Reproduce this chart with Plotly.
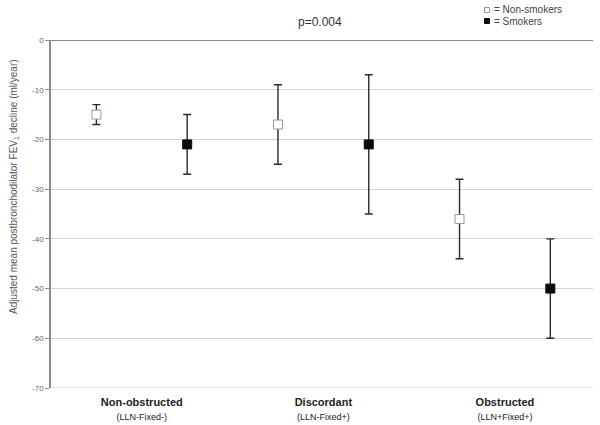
import plotly.graph_objects as go

groups = ["Non-obstructed", "Discordant", "Obstructed"]
group_sub = ["(LLN-Fixed-)", "(LLN-Fixed+)", "(LLN+Fixed+)"]

nonsmk_mean = [-15, -17, -36]
nonsmk_upper = [-13, -9, -28]
nonsmk_lower = [-17, -25, -44]

smk_mean = [-21, -21, -50]
smk_upper = [-15, -7, -40]
smk_lower = [-27, -35, -60]

ytick_vals = [0, -10, -20, -30, -40, -50, -60, -70]
ytick_text = ["0", "-10", "-20", "-30", "-40", "-50", "-60", "-70"]

FONT = "Liberation Sans, Arial, sans-serif"

x_ns = [2 * i for i in range(len(groups))]
x_s = [2 * i + 1 for i in range(len(groups))]
x_mid = [2 * i + 0.5 for i in range(len(groups))]

fig = go.Figure()

fig.add_trace(go.Scatter(
    x=x_ns, y=nonsmk_mean, mode="markers", name="Non-smokers",
    marker=dict(symbol="square", size=9, color="white",
                line=dict(color="#8a9cab", width=1)),
    error_y=dict(type="data", symmetric=False,
                 array=[u - m for u, m in zip(nonsmk_upper, nonsmk_mean)],
                 arrayminus=[m - l for m, l in zip(nonsmk_mean, nonsmk_lower)],
                 color="#2a2a2a", thickness=1.4, width=4),
    showlegend=False,
))
fig.add_trace(go.Scatter(
    x=x_s, y=smk_mean, mode="markers", name="Smokers",
    marker=dict(symbol="square", size=9, color="#0a0a14",
                line=dict(color="#0a0a14", width=1)),
    error_y=dict(type="data", symmetric=False,
                 array=[u - m for u, m in zip(smk_upper, smk_mean)],
                 arrayminus=[m - l for m, l in zip(smk_mean, smk_lower)],
                 color="#2a2a2a", thickness=1.4, width=4),
    showlegend=False,
))

ticktext = [f"<b>{g}</b><br><span style='font-size:9px'>{s}</span>"
            for g, s in zip(groups, group_sub)]

fig.update_layout(
    width=600, height=425,
    margin=dict(l=51, r=7, t=40, b=37),
    paper_bgcolor="white", plot_bgcolor="white",
    font=dict(family=FONT, color="#333333"),
    xaxis=dict(range=[-0.5, 5.47], tickvals=x_mid, ticktext=ticktext,
               showgrid=False, zeroline=False, showline=False, ticks="",
               automargin=False, ticklabelstandoff=6,
               tickfont=dict(size=11, color="#222222"), fixedrange=True),
    yaxis=dict(range=[-70, 0], tickvals=ytick_vals, ticktext=ytick_text,
               showgrid=True, gridcolor="#d4d4d4", gridwidth=1,
               automargin=False,
               zeroline=False, showline=True, linecolor="#8c8c8c", linewidth=1.5,
               ticks="outside", ticklen=4, tickcolor="#8c8c8c",
               tickfont=dict(size=8, color="#666666")),
    shapes=[
        dict(type="line", xref="paper", yref="y", x0=0, x1=1, y0=-70, y1=-70,
             line=dict(color="#d4d4d4", width=1), layer="below"),
        dict(type="line", xref="paper", yref="y", x0=0, x1=1, y0=0, y1=0,
             line=dict(color="#666666", width=1.5)),
        dict(type="rect", xref="paper", yref="paper",
             xsizemode="pixel", ysizemode="pixel",
             xanchor=(487 - 51) / 542, yanchor=1 + (40 - 10) / 348,
             x0=-2.5, x1=2.5, y0=-2.5, y1=2.5,
             line=dict(color="#8a9cab", width=1), fillcolor="white"),
        dict(type="rect", xref="paper", yref="paper",
             xsizemode="pixel", ysizemode="pixel",
             xanchor=(487 - 51) / 542, yanchor=1 + (40 - 21) / 348,
             x0=-2.5, x1=2.5, y0=-2.5, y1=2.5,
             line=dict(color="#0a0a14", width=1), fillcolor="#0a0a14"),
    ],
    annotations=[
        dict(text="p=0.004", xref="paper", yref="paper",
             x=(320 - 51) / 542, y=1 + (40 - 22) / 348,
             showarrow=False, font=dict(size=12, color="#333333"),
             xanchor="center", yanchor="middle"),
        dict(text="= Non-smokers", xref="paper", yref="paper",
             x=(492 - 51) / 542, y=1 + (40 - 9) / 348,
             showarrow=False, font=dict(size=10, color="#444444"),
             xanchor="left", yanchor="middle"),
        dict(text="= Smokers", xref="paper", yref="paper",
             x=(492 - 51) / 542, y=1 + (40 - 21) / 348,
             showarrow=False, font=dict(size=10, color="#444444"),
             xanchor="left", yanchor="middle"),
        dict(text="Adjusted mean postbronchodilator FEV<sub>1</sub> decline (ml/year)",
             xref="paper", yref="paper", x=0, y=1 - (187 - 40) / 348, xshift=-37,
             textangle=-90, showarrow=False,
             font=dict(size=10, color="#555555"),
             xanchor="center", yanchor="middle"),
    ],
)

fig.write_html("out.html", config={"displayModeBar": False},
               post_script="document.body.style.margin='0';document.body.style.padding='0';")
